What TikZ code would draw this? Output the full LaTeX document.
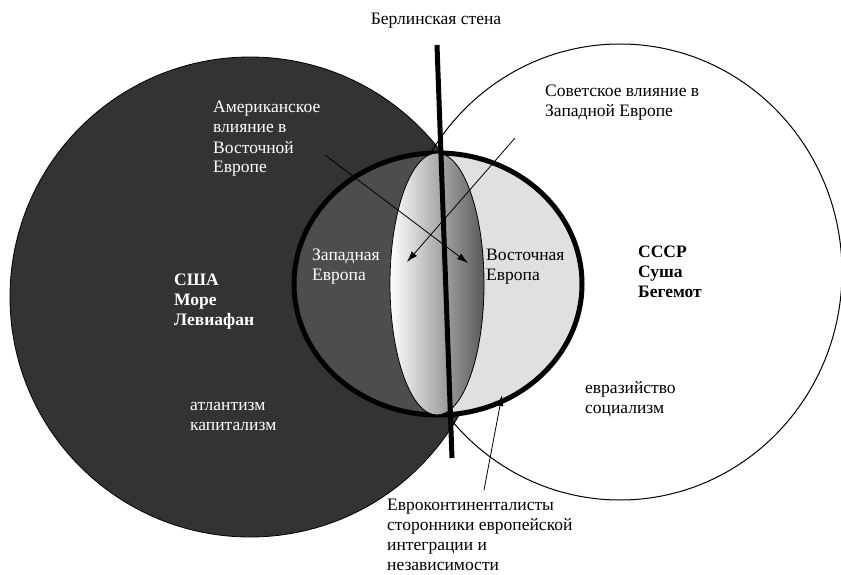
\documentclass[tikz,border=0pt]{standalone}
\usepackage{fontspec}
\setmainfont{Liberation Serif}
\usepackage{xcolor}
\usetikzlibrary{arrows.meta}
\definecolor{usagray}{HTML}{333333}
\definecolor{westgray}{HTML}{4D4D4D}
\definecolor{eastgray}{HTML}{E0E0E0}

\begin{document}
\begin{tikzpicture}[x=1pt, y=-1pt]
		\useasboundingbox (0,0) rectangle (841,575);
		% blocs
		\fill[white] (620,272) ellipse [x radius=222, y radius=228];
		\draw[fill=usagray, line width=0.8pt] (250,297) circle [radius=240];
		\draw[line width=1pt] (620,272) ellipse [x radius=222, y radius=228];
		\fill[eastgray] (438,284) ellipse [x radius=144, y radius=131];
		\begin{scope}
			\clip (0,0) rectangle (440,575);
			\clip (250,297) circle [radius=240];
			\fill[westgray] (438,284) ellipse [x radius=144, y radius=131];
		\end{scope}
		\draw[line width=5pt] (438,284) ellipse [x radius=144, y radius=131];
		\shadedraw[left color=white, right color=black!65, line width=0.8pt] (437,284) ellipse [x radius=47, y radius=131];
		% wall
		\coordinate (wtop) at (437,45);
		\coordinate (wbot) at (452,458);
		\draw[line width=5pt] (wtop) -- (wbot);
		% influences
		\coordinate (am) at (325,155);
		\coordinate (amtip) at (468,263);
		\coordinate (sov) at (515,138);
		\coordinate (sovtip) at (407,262);
		\coordinate (euro) at (484,490);
		\coordinate (eurotip) at (502,395);
		\begin{scope}[every path/.style={line width=0.8pt,-{Latex[length=11pt,width=7pt]}}]
			\draw (am) -- (amtip);
			\draw (sov) -- (sovtip);
			\draw (euro) -- (eurotip);
		\end{scope}
		% labels: base = baseline of last line
		\begin{scope}[every node/.style={align=left, anchor=base west, inner sep=0pt, font=\fontsize{17.5}{20}\selectfont}]
			\node (wall) [anchor=base] at (436,25) {Берлинская стена};
			\node (sovinf) at (545,117) {Советское влияние в\\Западной Европе};
			\node (east) at (486,280) {Восточная\\Европа};
			\node (ussr) [font=\fontsize{17.5}{20}\selectfont\bfseries] at (638,297) {СССР\\Суша\\Бегемот};
			\node (eurasia) at (585,413) {евразийство\\социализм};
			\node (eurocont) at (387,570) {Евроконтиненталисты\\сторонники европейской\\интеграции и\\независимости};
		\end{scope}
		\begin{scope}[every node/.style={align=left, anchor=base west, inner sep=0pt, text=white, font=\fontsize{17.5}{20}\selectfont}]
			\node (aminf) at (213,173) {Американское\\влияние в\\Восточной\\Европе};
			\node (west) at (312,280) {Западная\\Европа};
			\node (usa) [font=\fontsize{17.5}{20}\selectfont\bfseries] at (174,325) {США\\Море\\Левиафан};
			\node (atlantic) at (190,430) {атлантизм\\капитализм};
		\end{scope}
	\end{tikzpicture}
\end{document}
